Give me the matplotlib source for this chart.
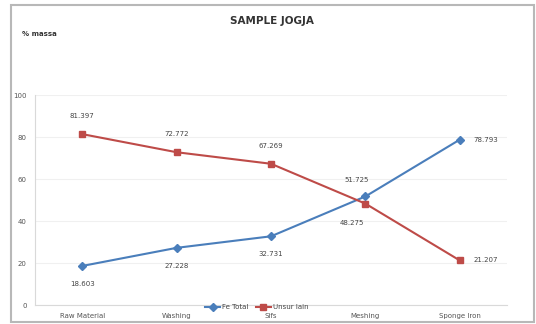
import numpy as np
import matplotlib.pyplot as plt
from matplotlib.patches import Rectangle

# tahapan proses dan komposisi (% massa)
tahapan = ['Raw Material', 'Washing', 'Sifs', 'Meshing', 'Sponge Iron']
fe_total = [18.603, 27.228, 32.731, 51.725, 78.793]
unsur_lain = [81.397, 72.772, 67.269, 48.275, 21.207]
y_ticks = [0, 20, 40, 60, 80, 100]

biru = '#4a7ebb'
merah = '#be4b48'

fig = plt.figure(figsize=(5.36, 3.24), dpi=100)
ax = fig.add_axes([0.0653, 0.0586, 0.8807, 0.648])

# bingkai luar grafik
fig.patches.append(Rectangle((11 / 536, 2 / 324), 523 / 536, 317 / 324,
                             transform=fig.transFigure, fill=False,
                             edgecolor='#b8b8b8', linewidth=1.5))

x = np.arange(len(tahapan))
ax.plot(x, fe_total, color=biru, marker='D', markersize=4, linewidth=1.5,
        label='Fe Total')
ax.plot(x, unsur_lain, color=merah, marker='s', markersize=5, linewidth=1.5,
        label='Unsur lain')

ax.set_xlim(-0.5, len(tahapan) - 0.5)
ax.set_ylim(0, 100)
ax.set_yticks(y_ticks)
ax.set_xticks(x)
ax.set_xticklabels(tahapan)
ax.tick_params(axis='both', labelsize=5, colors='#555555', length=0, pad=6)
ax.grid(axis='y', color='#f0f0f0', linewidth=0.8)
ax.set_axisbelow(True)
for s in ['top', 'right']:
    ax.spines[s].set_visible(False)
for s in ['left', 'bottom']:
    ax.spines[s].set_color('#d9d9d9')

# label nilai pada tiap titik
for i in range(len(tahapan)):
    if i == len(tahapan) - 1:
        ax.annotate(f'{fe_total[i]:.3f}', (x[i], fe_total[i]), xytext=(10, 0),
                    textcoords='offset points', fontsize=5, color='#444444',
                    va='center')
        ax.annotate(f'{unsur_lain[i]:.3f}', (x[i], unsur_lain[i]), xytext=(10, 0),
                    textcoords='offset points', fontsize=5, color='#444444',
                    va='center')
    elif i == 3:
        ax.annotate(f'{fe_total[i]:.3f}', (x[i], fe_total[i]), xytext=(-6, 12),
                    textcoords='offset points', fontsize=5, color='#444444',
                    ha='center', va='center')
        ax.annotate(f'{unsur_lain[i]:.3f}', (x[i], unsur_lain[i]), xytext=(-10, -14),
                    textcoords='offset points', fontsize=5, color='#444444',
                    ha='center', va='center')
    else:
        ax.annotate(f'{fe_total[i]:.3f}', (x[i], fe_total[i]), xytext=(0, -13),
                    textcoords='offset points', fontsize=5, color='#444444',
                    ha='center', va='center')
        ax.annotate(f'{unsur_lain[i]:.3f}', (x[i], unsur_lain[i]), xytext=(0, 13),
                    textcoords='offset points', fontsize=5, color='#444444',
                    ha='center', va='center')

ax.legend(loc='lower center', bbox_to_anchor=(0.47, -0.055), ncol=2,
          frameon=False, fontsize=5, handlelength=2.2, columnspacing=1.0,
          handletextpad=0.3, labelcolor='#444444')

fig.text(0.507, 0.935, 'SAMPLE JOGJA', ha='center', va='center',
         fontsize=7.5, fontweight='bold', color='#333333')
fig.text(0.041, 0.895, '% massa', ha='left', va='center', fontsize=5,
         fontweight='bold', color='#333333')

fig.savefig('out.png', dpi=100)
